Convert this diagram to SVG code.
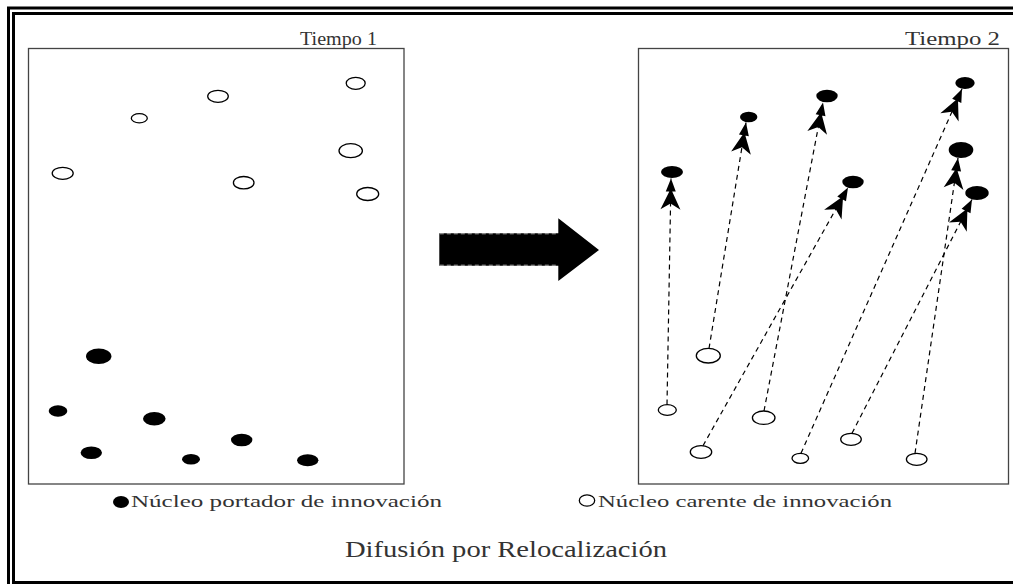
<svg xmlns="http://www.w3.org/2000/svg" width="1013" height="584" viewBox="0 0 1013 584">
<style>
.frame{stroke:#000;stroke-width:3;fill:none}
.box{fill:none;stroke:#444;stroke-width:1.3}
.open{fill:#fff;stroke:#000;stroke-width:1.3}
.full{fill:#000;stroke:none}
.dash{stroke:#000;stroke-width:1.2;stroke-dasharray:5,4;fill:none;marker-end:url(#dbl)}
.lbl{font-family:"Liberation Serif","Times New Roman",serif;fill:#333}
</style>
<defs>
<marker id="dbl" markerUnits="userSpaceOnUse" markerWidth="40" markerHeight="24" refX="0" refY="0" orient="auto" overflow="visible">
<path d="M0,0 L-13,-5 L-13,5 Z M-10,0 L-31,-10 L-25,0 L-31,10 Z" fill="#000"/>
</marker>
</defs>
<rect width="1013" height="584" fill="#fff"/>
<g id="frame">
<path class="frame" d="M8.5,584 V8 H1013"/>
<path class="frame" d="M13.5,584 V13.5 H1013"/>
<path class="frame" d="M12,582.5 H1013"/>
</g>
<g id="tiempo1">
<rect class="box" x="28.5" y="48.5" width="375.5" height="435.5"/>
<text class="lbl" x="300" y="45" font-size="18" textLength="77" lengthAdjust="spacingAndGlyphs">Tiempo 1</text>
</g>
<g id="tiempo2">
<rect class="box" x="638.5" y="48.5" width="370" height="435.5"/>
<text class="lbl" x="905" y="45" font-size="18" textLength="95" lengthAdjust="spacingAndGlyphs">Tiempo 2</text>
</g>
<g id="t1-open">
<ellipse class="open" cx="62.7" cy="173.3" rx="10.5" ry="6"/>
<ellipse class="open" cx="139.3" cy="118.3" rx="8" ry="4.6"/>
<ellipse class="open" cx="218" cy="96.3" rx="10.3" ry="6"/>
<ellipse class="open" cx="355.7" cy="83.3" rx="9.5" ry="6"/>
<ellipse class="open" cx="350.7" cy="150.7" rx="11.7" ry="7"/>
<ellipse class="open" cx="243.7" cy="182.7" rx="10.3" ry="6.2"/>
<ellipse class="open" cx="367.7" cy="194" rx="11" ry="6.5"/>
</g>
<g id="t1-full">
<ellipse class="full" cx="98.7" cy="356.3" rx="12.7" ry="7.7"/>
<ellipse class="full" cx="58" cy="411" rx="9.3" ry="5.7"/>
<ellipse class="full" cx="154.3" cy="418.7" rx="11.3" ry="6.7"/>
<ellipse class="full" cx="91.3" cy="452.7" rx="10.7" ry="6.3"/>
<ellipse class="full" cx="241.7" cy="440" rx="10.7" ry="6.3"/>
<ellipse class="full" cx="191" cy="459.3" rx="9" ry="5.3"/>
<ellipse class="full" cx="307.7" cy="460.3" rx="10.7" ry="6"/>
</g>
<g id="connectors">
<line class="dash" x1="667" y1="404.5" x2="671" y2="178.5"/>
<line class="dash" x1="709" y1="348.5" x2="746" y2="122.5"/>
<line class="dash" x1="764" y1="411" x2="823" y2="102.5"/>
<line class="dash" x1="703" y1="445.7" x2="848" y2="187.5"/>
<line class="dash" x1="801" y1="453.3" x2="962" y2="89"/>
<line class="dash" x1="852" y1="433.3" x2="972" y2="199.5"/>
<line class="dash" x1="915" y1="453.3" x2="958" y2="158"/>
</g>
<g id="t2-open">
<ellipse class="open" cx="708.3" cy="355.7" rx="12" ry="7.3"/>
<ellipse class="open" cx="667.3" cy="410" rx="9" ry="5.3"/>
<ellipse class="open" cx="763.7" cy="417.7" rx="11.3" ry="6.7"/>
<ellipse class="open" cx="701" cy="452" rx="10.7" ry="6.3"/>
<ellipse class="open" cx="800.3" cy="458.3" rx="8.3" ry="5"/>
<ellipse class="open" cx="851" cy="439.3" rx="10.3" ry="6"/>
<ellipse class="open" cx="916.7" cy="459.3" rx="10.3" ry="6"/>
</g>
<g id="t2-full">
<ellipse class="full" cx="672" cy="172" rx="11" ry="6"/>
<ellipse class="full" cx="748.7" cy="117" rx="8.7" ry="5.3"/>
<ellipse class="full" cx="827" cy="96" rx="10.7" ry="6.3"/>
<ellipse class="full" cx="965" cy="83" rx="9.7" ry="6"/>
<ellipse class="full" cx="961" cy="150" rx="12.3" ry="8"/>
<ellipse class="full" cx="853" cy="182" rx="10.7" ry="6.3"/>
<ellipse class="full" cx="977" cy="193" rx="11.7" ry="7"/>
</g>
<g id="big-arrow">
<path d="M439.3,233.3 H558.3 V218.3 L599,250 L558.3,281 V265.7 H439.3 Z" fill="#000"/>
<path d="M439.8,233.8 H558 M439.8,265.2 H558" stroke="#aaa" stroke-width="1" stroke-dasharray="4,3" fill="none"/>
</g>
<g id="legend">
<ellipse class="full" cx="121" cy="502" rx="8" ry="6"/>
<text class="lbl" x="131" y="507" font-size="16" textLength="311" lengthAdjust="spacingAndGlyphs">Núcleo portador de innovación</text>
<ellipse class="open" cx="587" cy="500.5" rx="7.7" ry="5.7"/>
<text class="lbl" x="598" y="507" font-size="16" textLength="294" lengthAdjust="spacingAndGlyphs">Núcleo carente de innovación</text>
</g>
<g id="title">
<text class="lbl" x="345" y="557" font-size="24" textLength="322" lengthAdjust="spacingAndGlyphs">Difusión por Relocalización</text>
</g>
</svg>
